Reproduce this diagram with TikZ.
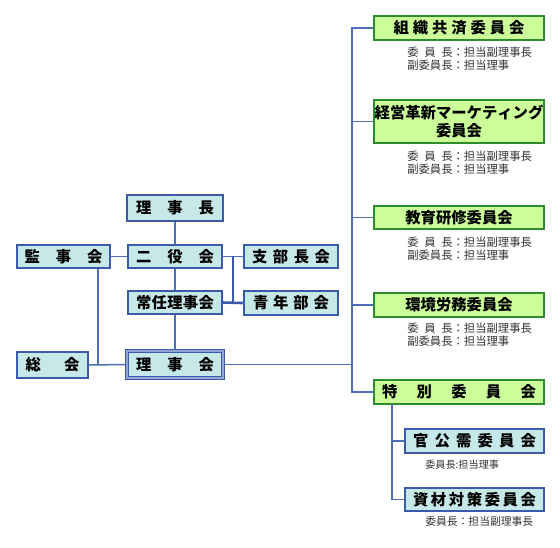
\documentclass[tikz,border=0pt]{standalone}
\usepackage{fontspec}
\setmainfont{Noto Sans CJK JP}
\newdimen\pxd \pxd=0.75pt
\def\px{0.75pt}
\definecolor{bfill}{HTML}{C6E8E8}
\definecolor{bdr}{HTML}{3A5BAA}
\definecolor{gfill}{HTML}{CCFF99}
\definecolor{gdr}{HTML}{2E8B2E}
\definecolor{lnc}{HTML}{4E6FB8}
\definecolor{sub}{HTML}{333333}
\tikzset{
  boxbase/.style={inner sep=0pt, font=\bfseries\fontsize{11.5}{14}\selectfont, align=center},
  bbox/.style={boxbase, draw=bdr, fill=bfill, line width=1.5*\px},
  bboxthick/.style={boxbase, draw=bdr, fill=bfill, line width=2.5*\px},
  bboxdbl/.style={boxbase, draw=bdr, fill=bfill, line width=1.1*\px, double=bdr!55!white, double distance=1.2*\px},
  gbox/.style={boxbase, draw=gdr, fill=gfill, line width=1.5*\px},
  ln/.style={draw=lnc, line width=1.5*\px},
  lnthick/.style={draw=bdr, line width=2.6*\px},
  note/.style={anchor=west, inner sep=0pt, text=sub, font=\fontsize{8.5}{9.75}\selectfont, align=left},
}
\newcommand\mkbox[7]{\node[#1, minimum width={(#5-#3)*0.75pt}, minimum height={(#6-#4)*0.75pt}] (#2) at ({(#3+#5)/2},{(#4+#6)/2}) {#7};}
\newcommand\spr[2]{\makebox[#1\pxd]{#2}}
\begin{document}
\begin{tikzpicture}[x=0.75pt,y=-0.75pt]
\useasboundingbox (0,0) rectangle (560,547);
% left block
\mkbox{bbox}{rz}{127}{195}{223}{221}{\spr{78}{理\hfill 事\hfill 長}}
\mkbox{bbox}{kj}{17}{245}{110}{268}{\spr{78}{監\hfill 事\hfill 会}}
\mkbox{bbox}{nyk}{128}{245}{222}{268}{\spr{78}{二\hfill 役\hfill 会}}
\mkbox{bbox}{sbc}{244}{245}{338}{268}{\spr{78}{支\hfill 部\hfill 長\hfill 会}}
\mkbox{bbox}{jn}{128}{291}{222}{314}{\spr{78}{常\hfill 任\hfill 理\hfill 事\hfill 会}}
\mkbox{bboxthick}{snb}{244}{291}{338}{315}{\spr{76}{青\hfill 年\hfill 部\hfill 会}}
\mkbox{bbox}{sk}{17}{352}{88}{378}{\spr{54}{総\hfill 会}}
\mkbox{bboxdbl}{rjk}{127}{351}{223}{378}{\spr{78}{理\hfill 事\hfill 会}}
% right committees
\mkbox{gbox}{c1}{374}{16}{544}{40}{\spr{131}{組\hfill 織\hfill 共\hfill 済\hfill 委\hfill 員\hfill 会}}
\mkbox{gbox}{c2}{374}{100}{544}{143}{\spr{155}{経\hfill 営\hfill 革\hfill 新\hfill マ\hfill ー\hfill ケ\hfill テ\hfill ィ\hfill ン\hfill グ}\\委員会}
\mkbox{gbox}{c3}{374}{206}{544}{229}{教育研修委員会}
\mkbox{gbox}{c4}{374}{293}{544}{317}{環境労務委員会}
\mkbox{gbox}{c5}{374}{380}{544}{404}{\spr{154}{特\hfill 別\hfill 委\hfill 員\hfill 会}}
\mkbox{bbox}{c6}{405}{429}{544}{453}{\spr{123}{官\hfill 公\hfill 需\hfill 委\hfill 員\hfill 会}}
\mkbox{bbox}{c7}{405}{488}{544}{511}{\spr{123}{資\hfill 材\hfill 対\hfill 策\hfill 委\hfill 員\hfill 会}}
% notes
\node[note] (n1) at (407,58.5) {\makebox[4em][s]{委\hfill 員\hfill 長}：担当副理事長\\副委員長：担当理事};
\node[note] (n2) at (407,162.5) {\makebox[4em][s]{委\hfill 員\hfill 長}：担当副理事長\\副委員長：担当理事};
\node[note] (n3) at (407,248.5) {\makebox[4em][s]{委\hfill 員\hfill 長}：担当副理事長\\副委員長：担当理事};
\node[note] (n4) at (407,334.5) {\makebox[4em][s]{委\hfill 員\hfill 長}：担当副理事長\\副委員長：担当理事};
\node[note, font=\fontsize{7.6}{10}\selectfont] (n5) at (425,465) {委員長:担当理事};
\node[note, font=\fontsize{8.1}{10}\selectfont] (n6) at (425,521) {委員長：担当副理事長};
% coordinates
\coordinate (kv) at (98,365);
\coordinate (jx) at (233,256);
\coordinate (tt) at (352,28);
\coordinate (sx) at (392,404);
% left connectors
\draw[ln] (rz.south) -- (nyk.north);
\draw[ln] (nyk.south) -- (jn.north);
\draw[ln] (jn.south) -- (rjk.north);
\draw[ln] (kj.east) -- (nyk.west);
\draw[ln] (nyk.east) -- (sbc.west);
\draw[ln] (kj.south -| kv) -- (kv);
\draw[ln] (sk.east) -- (rjk.west);
\draw[lnthick] (jx) -- (jn.east -| jx);
\draw[lnthick] (jn.east) -- (snb.west);
% right connectors
\draw[ln] (rjk.east) -- (rjk.east -| tt);
\draw[ln] (c1.west) -- (c1.west -| tt) -- (c5.west -| tt) -- (c5.west);
\draw[ln] (c2.west) -- (c2.west -| tt);
\draw[ln] (c3.west) -- (c3.west -| tt);
\draw[ln] (c4.west) -- (c4.west -| tt);
\draw[ln] (sx) -- (c7.west -| sx) -- (c7.west);
\draw[ln] (c6.west -| sx) -- (c6.west);
\end{tikzpicture}
\end{document}
